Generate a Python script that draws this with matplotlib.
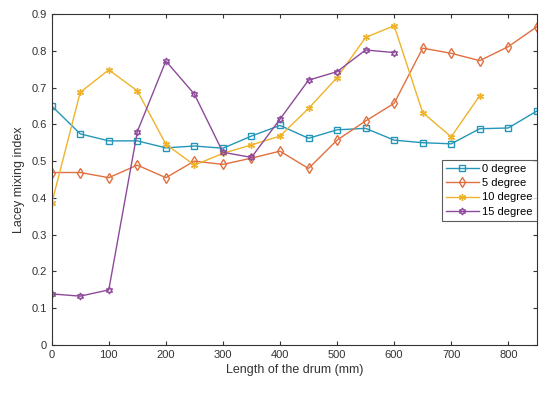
import numpy as np
import matplotlib
matplotlib.use('Agg')
import matplotlib.pyplot as plt

plt.rcParams['font.family'] = ['Liberation Sans', 'DejaVu Sans']

length = [0, 50, 100, 150, 200, 250, 300, 350, 400, 450, 500, 550, 600, 650, 700, 750, 800, 850]

deg0 = [0.650, 0.574, 0.555, 0.555, 0.536, 0.541, 0.535, 0.568, 0.597, 0.562,
        0.585, 0.589, 0.557, 0.550, 0.547, 0.588, 0.590, 0.636]
deg5 = [0.469, 0.469, 0.455, 0.489, 0.455, 0.500, 0.491, 0.508, 0.527, 0.480,
        0.557, 0.609, 0.657, 0.807, 0.793, 0.773, 0.811, 0.865]
deg10 = [0.385, 0.687, 0.748, 0.691, 0.546, 0.489, 0.521, 0.544, 0.568, 0.643,
         0.727, 0.836, 0.868, 0.632, 0.566, 0.678]
deg15 = [0.139, 0.133, 0.150, 0.580, 0.772, 0.682, 0.524, 0.510, 0.614, 0.720,
         0.743, 0.802, 0.795]

labels = ['0 degree', '5 degree', '10 degree', '15 degree']
colors = ['#2596b8', '#e0703f', '#eeb32a', '#8e4a9a']
markers = ['s', 'd', (6, 2, 0), (6, 1, 0)]
series = [deg0, deg5, deg10, deg15]

fig = plt.figure(figsize=(5.5, 3.98), dpi=100)
ax = fig.add_axes([0.094, 0.133, 0.882, 0.832])

for vals, lab, c, m in zip(series, labels, colors, markers):
    ax.plot(length[:len(vals)], vals, color=c, marker=m, markersize=5,
            markerfacecolor='none', markeredgecolor=c, linewidth=1, label=lab)

ax.set_xlim(0, 850)
ax.set_ylim(0, 0.9)
ax.set_xticks(np.arange(0, 801, 100))
ax.set_yticks(np.arange(0, 0.91, 0.1))
ax.set_yticklabels(['0'] + ['%.1f' % v for v in np.arange(0.1, 0.91, 0.1)])
ax.tick_params(direction='in', top=True, right=True, labelsize=8,
               colors='#333333', length=3)
for s in ax.spines.values():
    s.set_color('#333333')
    s.set_linewidth(0.8)

ax.set_xlabel('Length of the drum (mm)', fontsize=9, color='#333333', labelpad=3)
ax.set_ylabel('Lacey mixing index', fontsize=9, color='#333333', labelpad=5)

leg = ax.legend(loc='upper right', bbox_to_anchor=(1.0, 0.56), fontsize=8,
                frameon=True, fancybox=False, edgecolor='#333333',
                borderpad=0.35, labelspacing=0.4, handlelength=3.0,
                handletextpad=0.3, borderaxespad=0)
leg.get_frame().set_linewidth(0.8)

fig.savefig('out.png', dpi=100)
